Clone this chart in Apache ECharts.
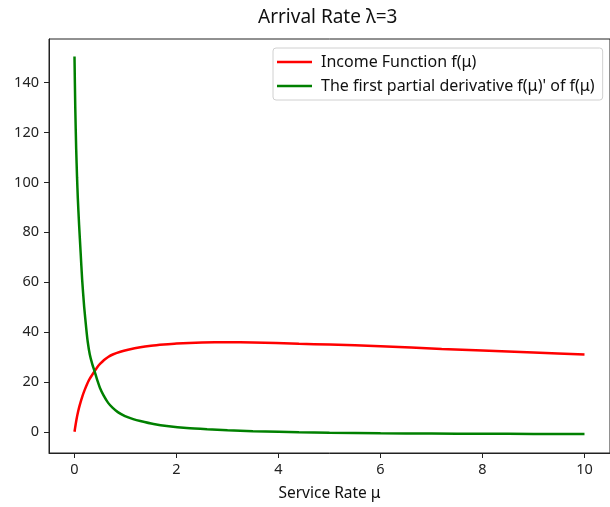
<!DOCTYPE html>
<html>
<head>
<meta charset="utf-8">
<title>Arrival Rate λ=3</title>
<script src="https://cdn.jsdelivr.net/npm/echarts@6/dist/echarts.min.js"></script>
<style>
  html, body { margin: 0; padding: 0; background: #fff; }
  #chart { width: 610px; height: 507px; }
</style>
</head>
<body>
<div id="chart"></div>
<script>
// Service rate μ samples and the two curves at arrival rate λ = 3
const incomeMu = [0, 0.02, 0.04, 0.07, 0.1, 0.156, 0.2, 0.25, 0.3, 0.39, 0.45, 0.51, 0.58, 0.66, 0.75, 0.9, 1.05, 1.29, 1.5, 1.75, 2, 2.5, 3, 3.5, 4.4, 5, 6, 7.2, 8, 9, 10];
const incomeVal = [0, 2.6, 5.0, 8.0, 10.5, 14.3, 16.8, 19.3, 21.3, 24.2, 26.0, 27.4, 28.8, 30.0, 31.0, 32.1, 32.9, 33.9, 34.5, 35.0, 35.4, 35.8, 35.9, 35.8, 35.3, 35.0, 34.3, 33.2, 32.6, 31.8, 31.0];

const derivMu = [0, 0.015, 0.033, 0.05, 0.065, 0.09, 0.12, 0.15, 0.19, 0.23, 0.26, 0.3, 0.35, 0.39, 0.45, 0.5, 0.57, 0.66, 0.75, 0.85, 0.99, 1.15, 1.29, 1.55, 1.85, 2.2, 2.6, 3.0, 3.5, 4, 4.4, 5, 6, 7, 8, 9, 10];
const derivVal = [150.5, 130, 113.5, 102, 93.7, 83, 72, 61, 50, 41.5, 36, 31, 27, 24.5, 20.5, 17.6, 14.6, 11.6, 9.6, 7.9, 6.3, 5.1, 4.3, 3.1, 2.2, 1.5, 1.0, 0.6, 0.25, 0, -0.2, -0.4, -0.6, -0.7, -0.8, -0.85, -0.9];

const xTicks = [0, 2, 4, 6, 8, 10];
const yTicks = [0, 20, 40, 60, 80, 100, 120, 140];

const seriesNames = ['Income Function f(μ)', "The first partial derivative f(μ)' of f(μ)"];

const pairs = (xs, ys) => xs.map((x, i) => [x, ys[i]]);

const FONT = 'Noto Sans';
const chart = echarts.init(document.getElementById('chart'), null, { renderer: 'canvas' });

chart.setOption({
  backgroundColor: '#fff',
  animation: false,
  title: {
    text: 'Arrival Rate λ=3',
    left: 258,
    top: 8,
    padding: 0,
    textStyle: { fontFamily: FONT, fontSize: 19, fontWeight: 'normal', color: '#111' }
  },
  legend: {
    orient: 'vertical',
    left: 273,
    top: 48,
    data: seriesNames,
    icon: 'rect',
    itemWidth: 35,
    itemHeight: 2.5,
    itemGap: 8,
    padding: [6, 8, 6, 4],
    borderColor: '#d0d0d0',
    borderWidth: 1,
    borderRadius: 3,
    textStyle: { fontFamily: FONT, fontSize: 16, color: '#111', padding: [0, 0, 0, 4] }
  },
  grid: {
    left: 49,
    right: -3,
    top: 39,
    bottom: 50,
    show: true,
    borderColor: '#222',
    borderWidth: 1,
    backgroundColor: 'transparent'
  },
  xAxis: {
    type: 'value',
    min: -0.5,
    max: 10.5,
    name: 'Service Rate μ',
    nameLocation: 'middle',
    nameGap: 33,
    nameTextStyle: { fontFamily: FONT, fontSize: 15.5, color: '#111' },
    axisLine: { show: true, onZero: false, lineStyle: { color: '#222', width: 1 } },
    axisTick: { show: true, inside: false, length: 5, customValues: xTicks, lineStyle: { color: '#222' } },
    axisLabel: { margin: 9, customValues: xTicks, fontFamily: FONT, fontSize: 14.5, color: '#222' },
    splitLine: { show: false }
  },
  yAxis: {
    type: 'value',
    min: -8.5,
    max: 157.5,
    axisLine: { show: true, onZero: false, lineStyle: { color: '#222', width: 1 } },
    axisTick: { show: true, inside: false, length: 5, customValues: yTicks, lineStyle: { color: '#222' } },
    axisLabel: { margin: 10, customValues: yTicks, fontFamily: FONT, fontSize: 14.5, color: '#222' },
    splitLine: { show: false }
  },
  series: [
    {
      name: seriesNames[0],
      type: 'line',
      data: pairs(incomeMu, incomeVal),
      showSymbol: false,
      symbol: 'none',
      smooth: 0.2,
      color: '#ff0000',
      lineStyle: { color: '#ff0000', width: 2.5 }
    },
    {
      name: seriesNames[1],
      type: 'line',
      data: pairs(derivMu, derivVal),
      showSymbol: false,
      symbol: 'none',
      smooth: 0.2,
      color: '#008000',
      lineStyle: { color: '#008000', width: 2.5 }
    }
  ]
});
</script>
</body>
</html>
